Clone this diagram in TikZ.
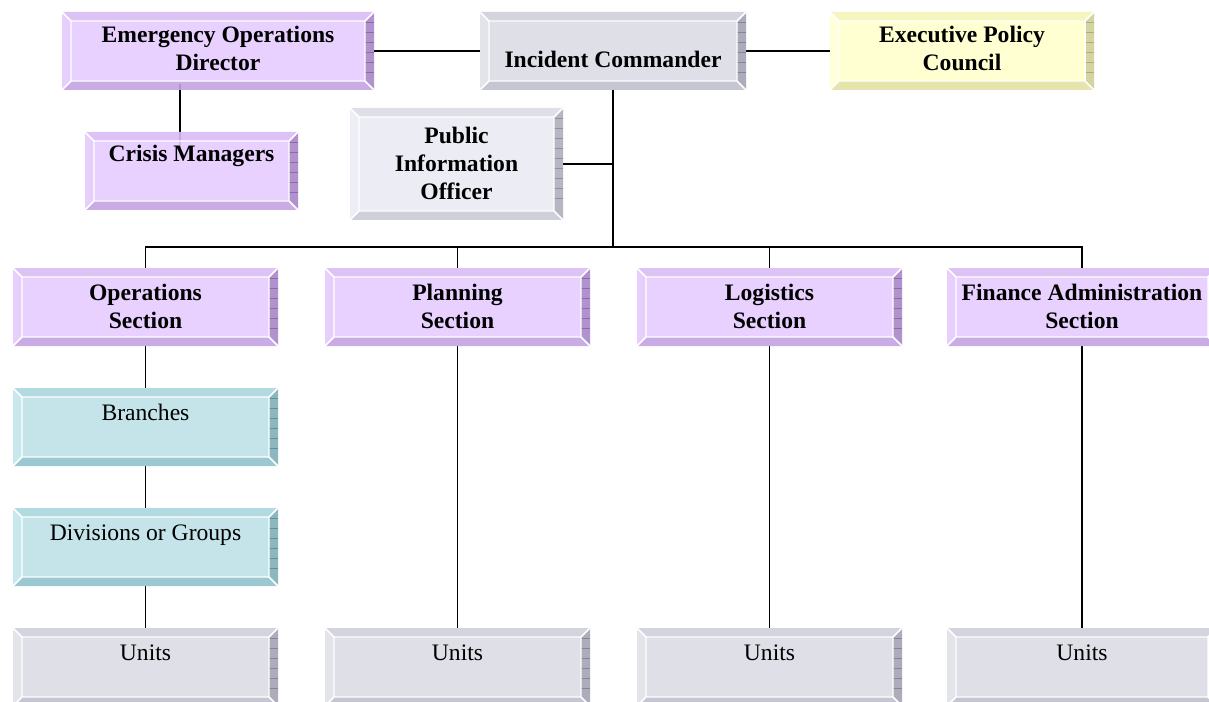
\documentclass[tikz,border=0pt]{standalone}
\usepackage{fontspec}
\setmainfont{Liberation Serif}
\usetikzlibrary{fit,backgrounds}
% purple
\definecolor{pu-face}{HTML}{E6CCFF}
\definecolor{pu-top}{HTML}{DABCF4}
\definecolor{pu-left}{HTML}{E4CAFC}
\definecolor{pu-bot}{HTML}{C4A4E4}
\definecolor{pu-right}{HTML}{A888C8}
\definecolor{pu-grid}{HTML}{8A6AAA}
% gray
\definecolor{gr-face}{HTML}{DCDCE6}
\definecolor{gr-top}{HTML}{D0D0DC}
\definecolor{gr-left}{HTML}{E0E0E8}
\definecolor{gr-bot}{HTML}{C0C0CE}
\definecolor{gr-right}{HTML}{A4A4B4}
\definecolor{gr-grid}{HTML}{84849A}
% light gray
\definecolor{lg-face}{HTML}{EAEAF4}
\definecolor{lg-top}{HTML}{DCDCE6}
\definecolor{lg-left}{HTML}{ECECF4}
\definecolor{lg-bot}{HTML}{CACAD6}
\definecolor{lg-right}{HTML}{B0B0BE}
\definecolor{lg-grid}{HTML}{9090A2}
% yellow
\definecolor{ye-face}{HTML}{FFFFCC}
\definecolor{ye-top}{HTML}{F4F4BA}
\definecolor{ye-left}{HTML}{FFFFD4}
\definecolor{ye-bot}{HTML}{E2E2A4}
\definecolor{ye-right}{HTML}{D0D098}
\definecolor{ye-grid}{HTML}{AEAE76}
% teal
\definecolor{te-face}{HTML}{BEE2E8}
\definecolor{te-top}{HTML}{AAD6DE}
\definecolor{te-left}{HTML}{C4E6EC}
\definecolor{te-bot}{HTML}{92C4CC}
\definecolor{te-right}{HTML}{80B0B8}
\definecolor{te-grid}{HTML}{60909A}
\tikzset{
  conn/.style={draw=black, line width=1.4pt},
  boldtext/.style={font=\bfseries\fontsize{17.7}{21}\selectfont},
  plaintext/.style={font=\fontsize{17.7}{21}\selectfont},
  edgewhite/.style={draw=white, line width=1.1pt},
}
% #1 name, #2 x0, #3 y0, #4 x1, #5 y1, #6 palette, #7 text style, #8 text, #9 first baseline below top (px)
\newcommand\bevbox[9]{%
  \begin{scope}[fill opacity=0.9]
    \fill[#6-face] (#2+9,#3+9) rectangle (#4-9,#5-9);
    \fill[#6-top] (#2,#3) -- (#4,#3) -- (#4-9,#3+9) -- (#2+9,#3+9) -- cycle;
    \fill[#6-left] (#2,#3) -- (#2+9,#3+9) -- (#2+9,#5-9) -- (#2,#5) -- cycle;
    \fill[#6-bot] (#2,#5) -- (#2+9,#5-9) -- (#4-9,#5-9) -- (#4,#5) -- cycle;
    \fill[#6-right] (#4,#3) -- (#4,#5) -- (#4-9,#5-9) -- (#4-9,#3+9) -- cycle;
  \end{scope}
  \pgfmathtruncatemacro\nlines{(#5-#3-14)/10}%
  \foreach \k in {1,...,\nlines} \draw[#6-grid, line width=0.45pt] (#4-9,#3+\k*10) -- (#4,#3+\k*10);
  \draw[edgewhite] (#2+9,#3+9) rectangle (#4-9,#5-9)
     (#2,#3) -- (#2+9,#3+9) (#4,#3) -- (#4-9,#3+9)
     (#2,#5) -- (#2+9,#5-9) (#4,#5) -- (#4-9,#5-9);
  \node[fit={(#2,#3) (#4,#5)}, inner sep=0pt] (#1) {};
  \node[anchor=north, inner sep=0pt, align=center, #7] (#1-t)
     at ([yshift={-(#9-19.6)*0.75}]#1.north) {\strut #8};
}
\begin{document}
\begin{tikzpicture}[x=0.75pt,y=-0.75pt]
\useasboundingbox (0,0) rectangle (1209,702);
\bevbox{eod}{62}{12}{374}{90}{pu}{boldtext}{Emergency Operations\\Director}{31}
\bevbox{ic}{480}{12}{746}{90}{gr}{boldtext}{Incident Commander}{56}
\bevbox{epc}{830}{12}{1094}{90}{ye}{boldtext}{Executive Policy\\Council}{31}
\bevbox{cm}{85}{132}{298}{210}{pu}{boldtext}{Crisis Managers}{30}
\bevbox{pio}{350}{108}{563}{220}{lg}{boldtext}{Public\\Information\\Officer}{36}
\bevbox{ops}{13}{268}{278}{346}{pu}{boldtext}{Operations\\Section}{32}
\bevbox{plan}{325}{268}{590}{346}{pu}{boldtext}{Planning\\Section}{32}
\bevbox{log}{637}{268}{902}{346}{pu}{boldtext}{Logistics\\Section}{32}
\bevbox{fin}{947}{268}{1217}{346}{pu}{boldtext}{Finance Administration\\Section}{32}
\bevbox{br}{13}{388}{278}{466}{te}{plaintext}{Branches}{32}
\bevbox{div}{13}{508}{278}{586}{te}{plaintext}{Divisions or Groups}{32}
\bevbox{ua}{13}{628}{278}{706}{gr}{plaintext}{Units}{32}
\bevbox{ub}{325}{628}{590}{706}{gr}{plaintext}{Units}{32}
\bevbox{uc}{637}{628}{902}{706}{gr}{plaintext}{Units}{32}
\bevbox{ud}{947}{628}{1217}{706}{gr}{plaintext}{Units}{32}
\begin{scope}[on background layer]
  \fill[white] (0,0) rectangle (1209,702);
  \coordinate (busy) at (0,247);
  \coordinate (bus) at (ic.south |- busy);
  \draw[conn] (eod) -- (ic);
  \draw[conn] (ic) -- (epc);
  \draw[conn] (ic.south) -- (bus);
  \draw[conn] (pio.east) -- (pio.east -| ic.south);
  \draw[conn] (ops.north) |- (bus) -| (fin.north);
  \draw[conn] (plan.north) -- (plan.north |- bus);
  \draw[conn] (log.north) -- (log.north |- bus);
  \draw[conn] (ops) -- (br);
  \draw[conn] (br) -- (div);
  \draw[conn] (div) -- (ua);
  \draw[conn] (plan) -- (ub);
  \draw[conn] (log) -- (uc);
  \draw[conn] (fin) -- (ud);
  \coordinate (eodcm) at ([xshift=88.5pt,yshift=4.5pt]eod.south west);
  \draw[conn] (eodcm) -- ([yshift=-13.5pt]eodcm |- cm.north);
\end{scope}
\end{tikzpicture}
\end{document}
